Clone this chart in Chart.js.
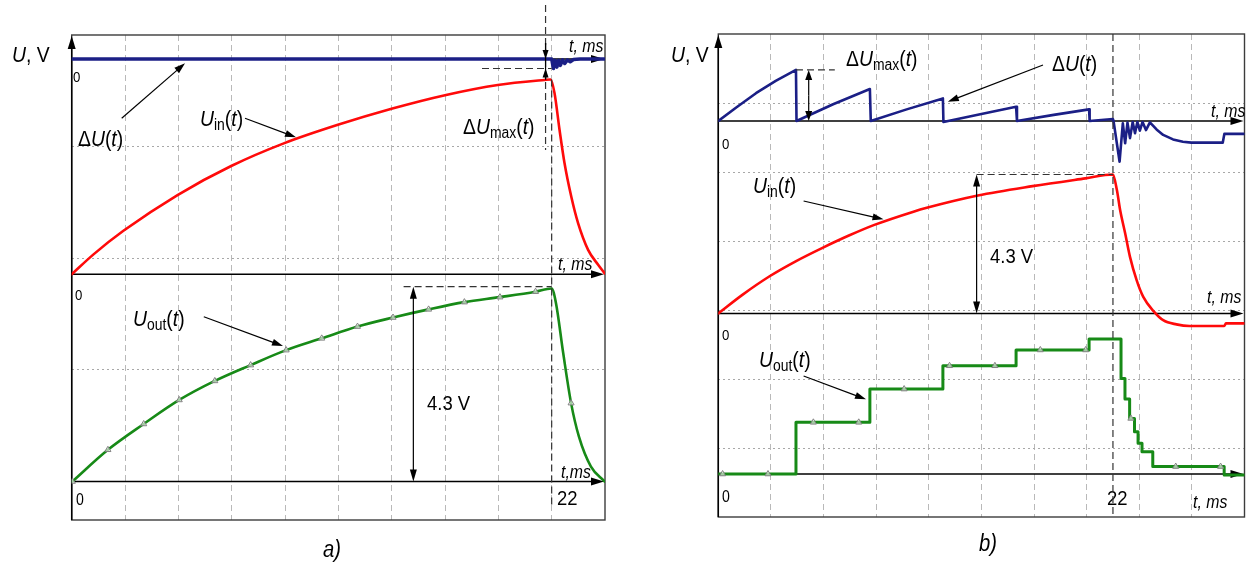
<!DOCTYPE html>
<html>
<head>
<meta charset="utf-8">
<script src="https://cdn.jsdelivr.net/npm/chart.js@4.4.1/dist/chart.umd.min.js"></script>
<style>
html,body{margin:0;padding:0;background:#fff;}
#wrap{position:relative;width:1249px;height:565px;overflow:hidden;}
canvas{position:absolute;top:0;}
#ca{left:0;}
#cb{left:640px;}
</style>
</head>
<body>
<div id="wrap">
<canvas id="ca" width="625" height="565"></canvas>
<canvas id="cb" width="609" height="565"></canvas>
</div>
<script>
// ---- a) smooth response, t in ms, U in V ----
const tInA  = [0,1.0,2.37,4.85,7.31,9.72,12.2,14.7,17.16,19.53,21.67,21.95,22.13,22.36,22.59,22.9,23.21,23.67,24.13,24.43];
const uInA  = [0,0.44,0.96,1.75,2.39,2.89,3.30,3.66,3.96,4.18,4.29,4.30,4.0,3.19,2.45,1.71,1.13,0.54,0.21,0.02];
const tOutA = [0.03,1.66,3.3,4.93,6.56,8.2,9.83,11.46,13.1,14.73,16.36,18.0,19.63,21.26,22.0,22.2,22.53,22.89,23.25,23.8,24.43];
const uOutA = [0,0.70,1.27,1.80,2.22,2.57,2.90,3.16,3.42,3.62,3.80,3.96,4.07,4.19,4.26,3.93,2.83,1.73,0.99,0.33,0];
const tMarkA = [0.03,1.66,3.3,4.93,6.56,8.2,9.83,11.46,13.1,14.73,16.36,18.0,19.63,21.26,22.89];
const uMarkA = [0,0.70,1.27,1.80,2.22,2.57,2.90,3.16,3.42,3.62,3.80,3.96,4.07,4.19,1.73];
const tDA = [0,22.0,22.08,22.16,22.24,22.32,22.4,22.5,22.6,22.72,22.85,23.0,23.3,24.4];
const uDA = [0,0,-0.21,-0.03,-0.18,-0.03,-0.14,-0.02,-0.1,-0.02,-0.06,-0.01,0,0];

// ---- b) sampled response ----
const tInB = [0,1.38,2.86,4.34,5.81,7.28,8.7,10.88,11.62,14.47,17.52,20.46,22.0,22.22,22.4,22.68,22.95,23.32,23.69,24.25,24.8,25.54,26.27,28.2,28.3,29.3];
const uInB = [0,0.59,1.15,1.62,2.03,2.41,2.74,3.15,3.27,3.65,3.94,4.18,4.30,3.82,3.2,2.48,1.75,1.03,0.51,0.08,-0.21,-0.34,-0.39,-0.39,-0.31,-0.31];
const tOutB = [0,4.33,8.45,12.52,16.6,20.67,22.45,22.67,22.93,23.2,23.4,23.62,24.22,28.2,29.3];
const uOutB = [0,1.6,2.63,3.35,3.84,4.18,2.96,2.32,1.72,1.31,0.95,0.69,0.23,-0.03,-0.03];
const tMarkB = [0.24,2.77,5.3,7.83,10.36,12.89,15.42,17.95,20.48,23.0,25.5,28.0];
const uMarkB = [0,0,1.6,1.6,2.63,3.35,3.35,3.84,3.84,1.72,0.23,0.23];
const tDB = [0,1.0,2.1,3.2,4.33,4.36,6.4,8.45,8.5,10.5,12.52,12.55,14.6,16.6,16.65,18.7,20.67,20.7,22.0,22.03,22.37,22.55,22.68,22.81,22.95,23.1,23.23,23.36,23.5,23.65,23.84,24.06,24.43,24.8,25.35,25.9,26.37,28.12,28.21,29.3];
const uDB = [0,0.42,0.86,1.24,1.58,0,0.52,0.99,0,0.36,0.70,-0.03,0.21,0.44,0,0.19,0.36,0,0.06,0.01,-1.26,-0.07,-0.69,-0.05,-0.53,-0.03,-0.38,-0.03,-0.30,-0.03,-0.28,-0.04,-0.26,-0.43,-0.57,-0.64,-0.67,-0.67,-0.40,-0.40];

const FONT='"Liberation Sans Narrow","Liberation Sans",Arial,sans-serif';
const NAVY='#1b1f86', RED='#ff0a0a', GREEN='#178a17';
const SQUEEZE=0.88; // the figure uses a condensed face

// page geometry of the two scope screens
const geoA={off:0,w:625,top:35,bottom:520,left:71.7,right:605,tDiv:22/9,pxV:45.3,gridFrom:38.5,gridPx:111.6,base:{yd:59,yi:274.3,yo:481.5}};
const geoB={off:640,w:609,top:34,bottom:517,left:718.3,right:1247,tDiv:22/7.5,pxV:32.3,gridFrom:69,gridPx:69,base:{yd:121,yi:313.4,yo:474}};

const pts=(t,u)=>t.map((x,i)=>({x:x,y:u[i]}));

function arrow(ctx,x1,y1,x2,y2,head,w){
  head=head||11; w=w||7;
  const a=Math.atan2(y2-y1,x2-x1), c=Math.cos(a), s=Math.sin(a);
  ctx.beginPath();ctx.moveTo(x1,y1);ctx.lineTo(x2-c*head*0.7,y2-s*head*0.7);ctx.stroke();
  ctx.beginPath();ctx.moveTo(x2,y2);
  ctx.lineTo(x2-head*c+w/2*s,y2-head*s-w/2*c);
  ctx.lineTo(x2-head*c-w/2*s,y2-head*s+w/2*c);
  ctx.closePath();ctx.fill();
}
function dashed(ctx,x1,y1,x2,y2){
  ctx.save();ctx.setLineDash([7,4]);ctx.strokeStyle='#333';ctx.lineWidth=1.2;
  ctx.beginPath();ctx.moveTo(x1,y1);ctx.lineTo(x2,y2);ctx.stroke();ctx.restore();
}
function rich(ctx,x,y,parts,size){
  ctx.save();ctx.translate(x,y);ctx.scale(SQUEEZE,1);
  let cx=0;
  for(const [s,k] of parts){
    const sz=k==='s'?size*0.72:size;
    ctx.font=(k==='i'?'italic ':'')+sz+'px '+FONT;
    ctx.fillText(s,cx,k==='s'?size*0.2:0);
    cx+=ctx.measureText(s).width;
  }
  ctx.restore();
}
function txt(ctx,s,x,y,size,it){rich(ctx,x,y,[[s,it?'i':'n']],size);}
const U_IN=[['U','i'],['in','s'],['(','n'],['t','i'],[')','n']];
const U_OUT=[['U','i'],['out','s'],['(','n'],['t','i'],[')','n']];
const DU=[['\u0394','n'],['U','i'],['(','n'],['t','i'],[')','n']];
const DU_MAX=[['\u0394','n'],['U','i'],['max','s'],['(','n'],['t','i'],[')','n']];

function notesA(ch,ctx,P,X,Y){
  rich(ctx,P(12),62,[['U','i'],[', V','n']],22);
  txt(ctx,'0',P(73),82,15);txt(ctx,'0',P(75),300,15);txt(ctx,'0',P(76),505,16);
  txt(ctx,'t, ms',P(569),52,18,true);txt(ctx,'t, ms',P(558),270,18,true);txt(ctx,'t,ms',P(561),478,18,true);
  txt(ctx,'22',P(557),505,21);
  rich(ctx,P(78),146,DU,22);
  rich(ctx,P(200),126,U_IN,22);
  rich(ctx,P(463),134,DU_MAX,22);
  rich(ctx,P(133),326,U_OUT,22);
  txt(ctx,'4.3 V',P(427),410,21);
  txt(ctx,'a)',P(323),557,23,true);
  arrow(ctx,P(121.7),118.3,P(185),63.3);
  arrow(ctx,P(245),118.3,P(296),137.3);
  arrow(ctx,P(203.8),316.7,P(283),346);
  const x22=X(22), xm=X(21.72);
  const yMin=Y.yd(Math.min(...uDA)), yPk=Y.yi(Math.max(...uInA));
  dashed(ctx,xm,5,xm,150);
  dashed(ctx,x22,yPk,x22,505);
  dashed(ctx,P(482),yMin,x22,yMin);
  ctx.beginPath();ctx.moveTo(xm,43);ctx.lineTo(xm,yPk);ctx.stroke();
  arrow(ctx,xm,43,xm,Y.yd(0),9,6);
  arrow(ctx,xm,yPk,xm,yMin,9,6);
  const x43=X(15.66), y43=Y.yo(4.3);
  dashed(ctx,P(403.6),y43,x22,y43);
  arrow(ctx,x43,(y43+Y.yo(0))/2,x43,y43,12,7);
  arrow(ctx,x43,(y43+Y.yo(0))/2,x43,Y.yo(0),12,7);
}
function notesB(ch,ctx,P,X,Y){
  rich(ctx,P(671),62,[['U','i'],[', V','n']],22);
  txt(ctx,'0',P(722),149,15);txt(ctx,'0',P(722),340,15);txt(ctx,'0',P(722),502,16);
  txt(ctx,'t, ms',P(1211),117,18,true);txt(ctx,'t, ms',P(1207),303,18,true);txt(ctx,'t, ms',P(1193),508,18,true);
  txt(ctx,'22',P(1107),505,21);
  rich(ctx,P(846),66,DU_MAX,22);
  rich(ctx,P(1052),71,DU,22);
  rich(ctx,P(753),193,U_IN,22);
  txt(ctx,'4.3 V',P(990),263,21);
  rich(ctx,P(759),367,U_OUT,22);
  txt(ctx,'b)',P(979),551,23,true);
  arrow(ctx,P(1043),65,P(947.8),101.7);
  arrow(ctx,P(803.6),201,P(883.5),219.3);
  arrow(ctx,P(803.6),376,P(866),399.3);
  const x22=X(22);
  dashed(ctx,x22,ch.chartArea.top,x22,ch.chartArea.bottom);
  const yPk=Y.yd(uDB[4]);
  dashed(ctx,X(tDB[4]),yPk,P(834.8),yPk);
  const xa=P(808.7), ym=(yPk+Y.yd(0))/2;
  arrow(ctx,xa,ym,xa,yPk,10,7);arrow(ctx,xa,ym,xa,Y.yd(0),10,7);
  const x43=X(14.4), y43=Y.yi(4.3), y0=Y.yi(0);
  dashed(ctx,x43,y43,x22,y43);
  arrow(ctx,x43,(y43+y0)/2,x43,y43,12,7);
  arrow(ctx,x43,(y43+y0)/2,x43,y0,12,7);
}

function scopePlugin(g,notes){
  const P=x=>x-g.off;
  return {
    id:'scope',
    beforeDatasetsDraw(ch){
      const ctx=ch.ctx,a=ch.chartArea;
      ctx.save();
      ctx.strokeStyle='#3c3c3c';ctx.lineWidth=1.4;
      ctx.strokeRect(a.left,a.top,a.right-a.left,a.bottom-a.top);
      ctx.strokeStyle='#000';ctx.fillStyle='#000';ctx.lineWidth=1.5;
      for(const id of ['yd','yi','yo']){
        const y=ch.scales[id].getPixelForValue(0);
        arrow(ctx,a.left,y,a.right-1,y,13,8);
      }
      arrow(ctx,a.left,a.bottom,a.left,a.top+1,13,8);
      ctx.restore();
    },
    afterDraw(ch){
      const ctx=ch.ctx;
      const X=v=>ch.scales.x.getPixelForValue(v);
      const Y={};
      for(const id of ['yd','yi','yo'])Y[id]=v=>ch.scales[id].getPixelForValue(v);
      ctx.save();
      ctx.fillStyle='#000';ctx.strokeStyle='#000';ctx.lineWidth=1.2;ctx.textBaseline='alphabetic';
      notes(ch,ctx,P,X,Y);
      ctx.restore();
    }
  };
}

function build(id,g,sets,notes){
  const chan=base=>({display:false,min:-(g.bottom-base)/g.pxV,max:(base-g.top)/g.pxV});
  const h=g.bottom-g.top;
  return new Chart(document.getElementById(id),{
    type:'line',
    data:{datasets:sets},
    options:{
      responsive:false,animation:false,
      layout:{padding:{left:g.left-g.off,top:g.top,right:g.off+g.w-g.right,bottom:565-g.bottom}},
      plugins:{legend:{display:false},tooltip:{enabled:false}},
      elements:{point:{radius:0,hoverRadius:0},line:{borderJoinStyle:'round',borderCapStyle:'round'}},
      scales:{
        x:{type:'linear',min:0,max:g.tDiv*10,ticks:{display:false},
           grid:{drawTicks:false,color:'#b9b9b9',lineWidth:1},border:{display:false,dash:[6,4]},
           afterBuildTicks:s=>{s.ticks=[];for(let k=1;k<10;k++)s.ticks.push({value:k*g.tDiv});}},
        yg:{type:'linear',position:'left',min:0,max:h,ticks:{display:false},
           grid:{drawTicks:false,color:'#a8a8a8',lineWidth:1},border:{display:false,dash:[2,3]},
           afterBuildTicks:s=>{s.ticks=[];for(let v=g.gridFrom;v<h-2;v+=g.gridPx)s.ticks.push({value:v});}},
        yd:chan(g.base.yd),yi:chan(g.base.yi),yo:chan(g.base.yo)
      }
    },
    plugins:[scopePlugin(g,notes)]
  });
}

const marks=(t,u)=>({data:pts(t,u),yAxisID:'yo',showLine:false,pointStyle:'triangle',pointRadius:3.5,
  pointBorderColor:'#808080',pointBackgroundColor:'rgba(255,255,255,0.6)',pointBorderWidth:1});

build('ca',geoA,[
  marks(tMarkA,uMarkA),
  {data:pts(tOutA,uOutA),yAxisID:'yo',borderColor:GREEN,borderWidth:2.6,cubicInterpolationMode:'monotone'},
  {data:pts(tInA,uInA),yAxisID:'yi',borderColor:RED,borderWidth:2.6,cubicInterpolationMode:'monotone'},
  {data:pts(tDA,uDA),yAxisID:'yd',borderColor:NAVY,borderWidth:3.5}
],notesA);

build('cb',geoB,[
  marks(tMarkB,uMarkB),
  {data:pts(tOutB,uOutB),yAxisID:'yo',borderColor:GREEN,borderWidth:3,stepped:'before'},
  {data:pts(tInB,uInB),yAxisID:'yi',borderColor:RED,borderWidth:2.6,cubicInterpolationMode:'monotone'},
  {data:pts(tDB,uDB),yAxisID:'yd',borderColor:NAVY,borderWidth:2.6}
],notesB);
</script>
</body>
</html>
